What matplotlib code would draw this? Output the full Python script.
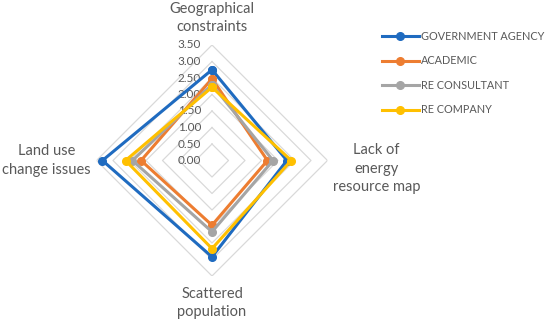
import numpy as np
import matplotlib
matplotlib.use("Agg")
import matplotlib.pyplot as plt
from matplotlib.transforms import offset_copy

plt.rcParams['font.family'] = ['Lato', 'DejaVu Sans']

categories = ["Geographical\nconstraints", "Lack of\nenergy\nresource map",
              "Scattered\npopulation", "Land use\nchange issues"]
series_names = ["GOVERNMENT AGENCY", "ACADEMIC", "RE CONSULTANT", "RE COMPANY"]
gov = [2.75, 2.27, 2.92, 3.32]
academic = [2.48, 1.68, 1.96, 2.15]
consultant = [2.30, 1.85, 2.16, 2.41]
company = [2.22, 2.40, 2.67, 2.62]
tick_values = [0.0, 0.5, 1.0, 1.5, 2.0, 2.5, 3.0, 3.5]
colors = ["#1F6BC0", "#ED7D31", "#A5A5A5", "#FFC000"]

fig = plt.figure(figsize=(5.5, 3.22), dpi=100)
W, H = 550, 322
cx, cy, R = 212, 160.5, 115.5
ax = fig.add_axes([(cx - R) / W, (H - cy - R) / H, 2 * R / W, 2 * R / H], projection='polar')
ax.set_theta_offset(np.pi / 2)
ax.set_theta_direction(-1)
ax.set_ylim(0, 3.5)
ax.axis('off')

n = len(categories)
angles = np.arange(n) * 2 * np.pi / n
closed = np.append(angles, angles[0])

# diamond grid
for v in tick_values[1:]:
    ax.plot(closed, [v] * (n + 1), color="#D9D9D9", lw=0.9, zorder=1)

# tick labels
tr = offset_copy(ax.transData, fig=fig, x=-11, y=0, units='dots')
for v in tick_values:
    ax.text(0, v, f"{v:.2f}", transform=tr, ha='right', va='center',
            fontsize=8.5, color="#595959", zorder=2)

# series
for name, vals, c in zip(series_names, [gov, academic, consultant, company], colors):
    ax.plot(closed, list(vals) + [vals[0]], color=c, lw=2.2, marker='o',
            markersize=5.5, label=name, zorder=3)

# category labels
offsets = [(0, 27), (49, -8), (0, -27), (-50, 0)]
for ang, lab, (dx, dy) in zip(angles, categories, offsets):
    t = offset_copy(ax.transData, fig=fig, x=dx, y=dy, units='dots')
    ax.text(ang, 3.5, lab, transform=t, ha='center', va='center',
            fontsize=10.5, color="#595959", linespacing=1.45)

handles, labels = ax.get_legend_handles_labels()
fig.legend(handles, labels, loc='upper left', bbox_to_anchor=(372 / W, 1 - 21 / H),
           frameon=False, fontsize=7.8, handlelength=3.4, handletextpad=0.2,
           labelspacing=1.25, labelcolor="#595959")

fig.savefig("out.png", dpi=100)
